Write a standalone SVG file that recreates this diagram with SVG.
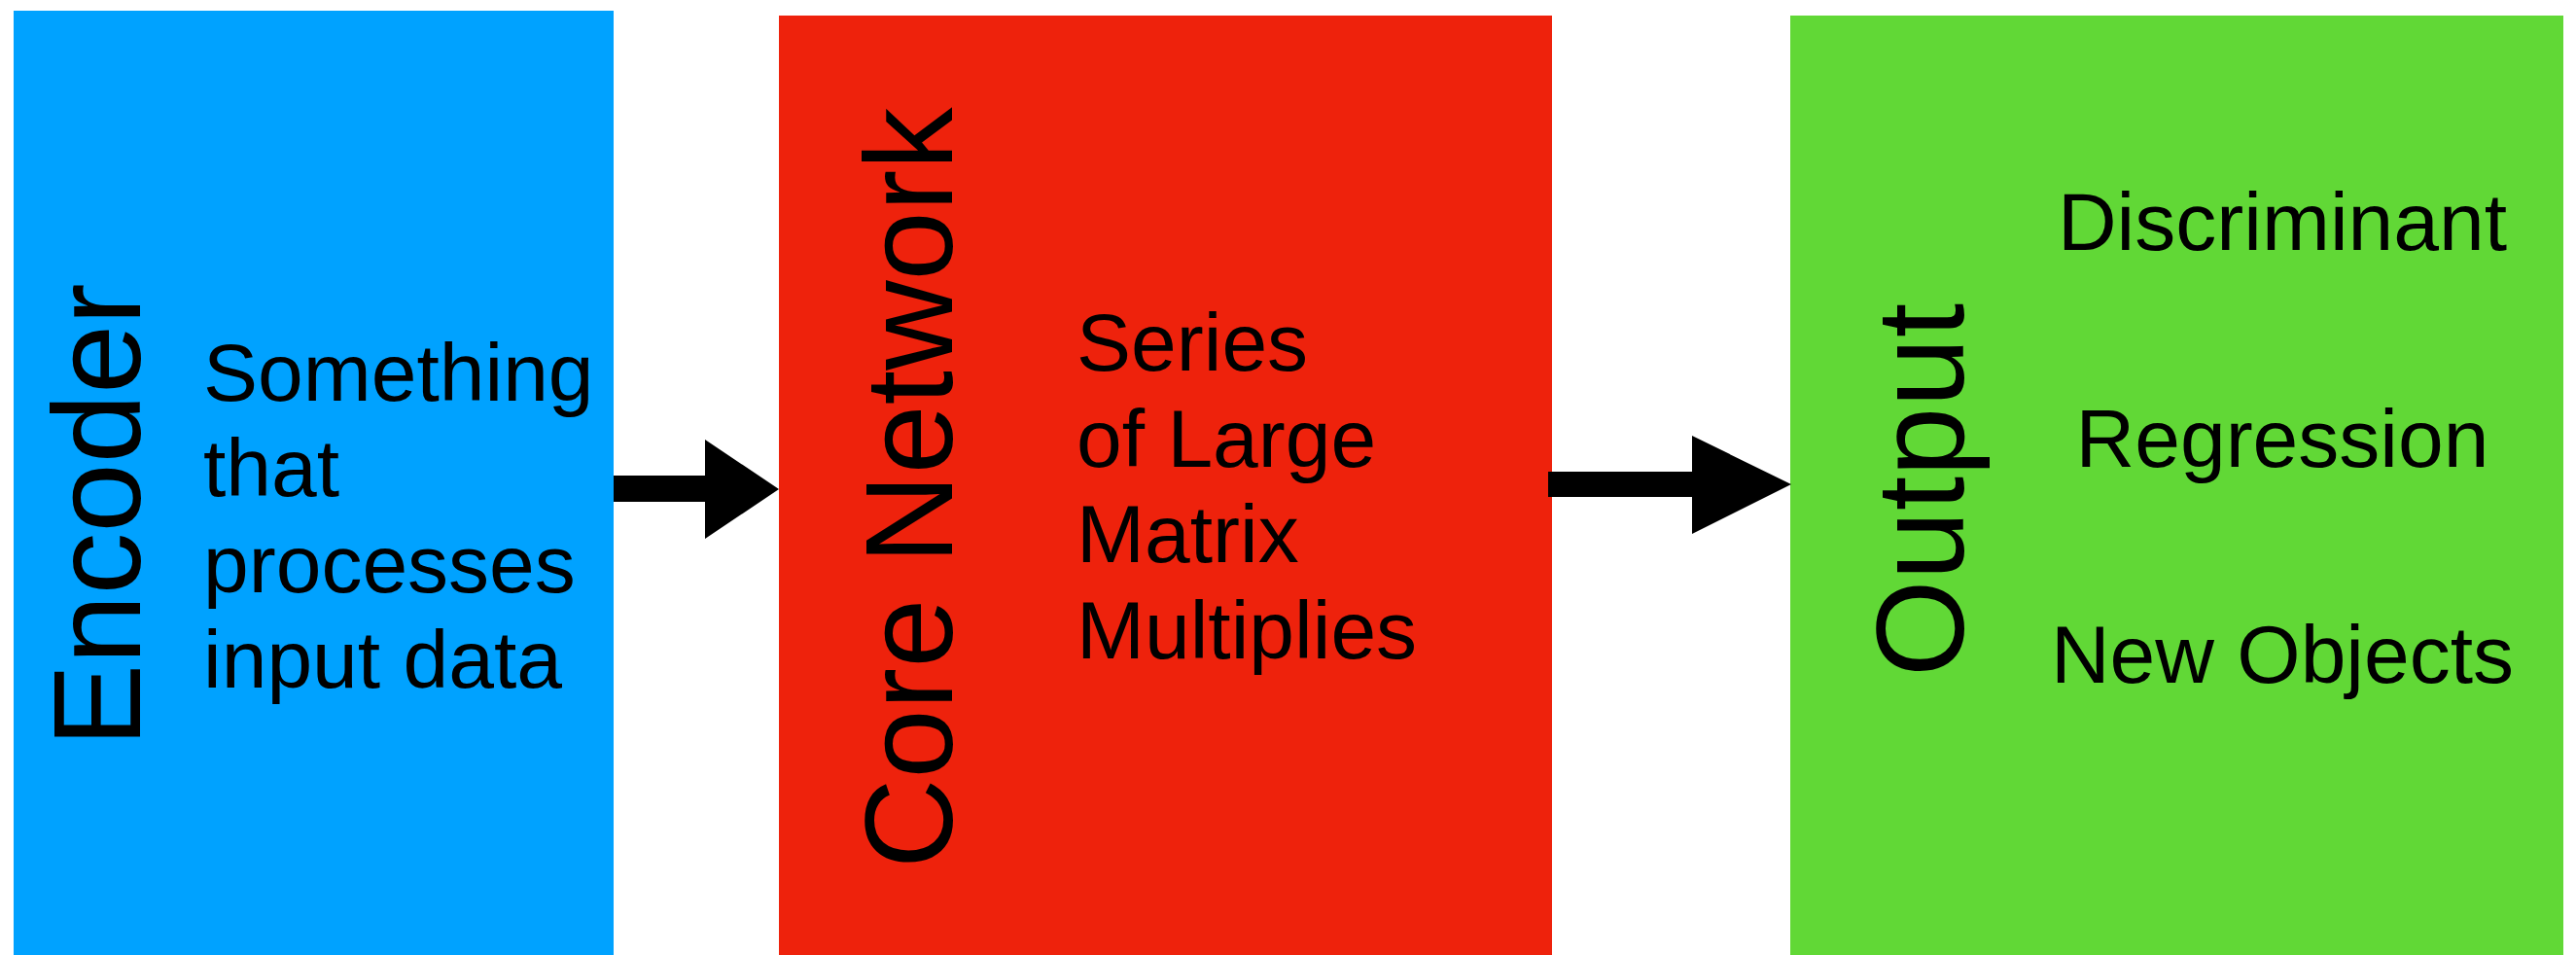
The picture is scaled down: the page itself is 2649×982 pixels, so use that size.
<svg xmlns="http://www.w3.org/2000/svg" width="2649" height="982" viewBox="0 0 2649 982">
<style>
.title{font-family:"Liberation Sans",Arial,sans-serif;font-size:128px;fill:#000}
.body{font-family:"Liberation Sans",Arial,sans-serif;font-size:84px;fill:#000}
.arrow{fill:#000}
</style>
<rect width="2649" height="982" fill="#fff"/>
<g id="encoder">
<rect x="14" y="11" width="617" height="971" fill="#00A2FF"/>
<text class="title" transform="translate(144,768) rotate(-90)">Encoder</text>
<text class="body" x="209"><tspan x="209" y="412">Something</tspan><tspan x="209" y="510">that</tspan><tspan x="209" y="609">processes</tspan><tspan x="209" y="707">input data</tspan></text>
</g>
<g id="core-network">
<rect x="801" y="16" width="795" height="966" fill="#EE220C"/>
<text class="title" transform="translate(979,893) rotate(-90)">Core Network</text>
<text class="body"><tspan x="1107" y="381">Series</tspan><tspan x="1107" y="480">of Large</tspan><tspan x="1107" y="578">Matrix</tspan><tspan x="1107" y="677">Multiplies</tspan></text>
</g>
<g id="output">
<rect x="1841" y="16" width="795" height="966" fill="#61D836"/>
<text class="title" transform="translate(2019,696) rotate(-90)">Output</text>
<text class="body" text-anchor="middle"><tspan x="2347" y="257">Discriminant</tspan><tspan x="2347" y="480">Regression</tspan><tspan x="2347" y="702">New Objects</tspan></text>
</g>
<g id="connectors">
<polygon class="arrow" points="631,489 725,489 725,452 801,503 725,554 725,516 631,516"/>
<polygon class="arrow" points="1592,485 1740,485 1740,448 1842,498 1740,549 1740,511 1592,511"/>
</g>
</svg>
